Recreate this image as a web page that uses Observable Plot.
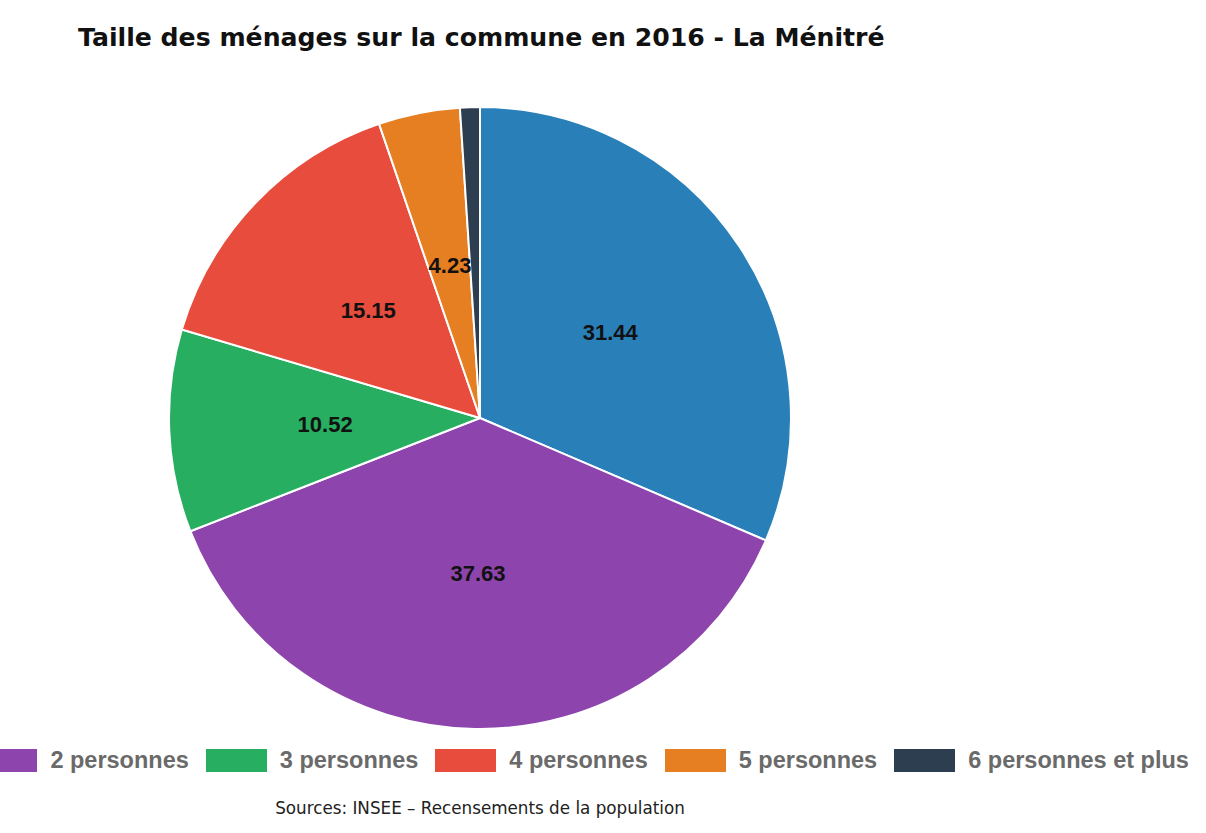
<!DOCTYPE html>
<html>
<head>
<meta charset="utf-8">
<script src="https://cdn.jsdelivr.net/npm/d3@7"></script>
<script src="https://cdn.jsdelivr.net/npm/@observablehq/plot@0.6"></script>
<style>
  html, body { margin: 0; padding: 0; background: #fff; }
  #wrap { position: relative; width: 1206px; height: 833px; overflow: hidden; }
  #title { position: absolute; left: 78px; top: 25px; white-space: nowrap; display: inline-block;
           font-family: "DejaVu Sans", Verdana, sans-serif; font-weight: bold; color: #111; line-height: 1; }
  #chart { position: absolute; left: 0; top: 98px; }
  #legend { position: absolute; left: -240px; top: 749px; display: flex; flex-wrap: nowrap; align-items: center;
            font-family: "Liberation Sans", Arial, sans-serif; font-weight: bold; font-size: 23.5px; color: #6a6a6a;
            white-space: nowrap; line-height: 23px; }
  .item { display: flex; align-items: center; margin-right: 17px; flex: none; }
  .sw { width: 61px; height: 23px; margin-right: 13px; flex: none; }
  #caption { position: absolute; top: 800px; white-space: nowrap; display: inline-block;
             font-family: "DejaVu Sans", Verdana, sans-serif; color: #222; line-height: 1; }
</style>
</head>
<body>
<div id="wrap">
  <div id="title">Taille des ménages sur la commune en 2016 - La Ménitré</div>
  <div id="chart"></div>
  <div id="legend"></div>
  <div id="caption">Sources: INSEE – Recensements de la population</div>
</div>
<script>
const categories = ["1 personne", "2 personnes", "3 personnes", "4 personnes", "5 personnes", "6 personnes et plus"];
const values = [31.44, 37.63, 10.52, 15.15, 4.23, 1.03];
const colors = ["#2980b9", "#8e44ad", "#27ae60", "#e74c3c", "#e67e22", "#2c3e50"];

const data = categories.map((c, i) => ({category: c, value: values[i]}));
const arcs = d3.pie().sort(null).value(d => d.value)(data);
const labelData = arcs.filter(a => a.data.value >= 2).map(a => {
  const m = (a.startAngle + a.endAngle) / 2;
  return {x: 0.5 * Math.sin(m), y: 0.5 * Math.cos(m), text: a.data.value.toFixed(2)};
});

const fallbackColor = d3.scaleOrdinal(categories, colors);

function pieMark(index, scales) {
  const color = scales.color || fallbackColor;
  const cx = scales.x(0), cy = scales.y(0);
  const r = scales.x(1) - scales.x(0);
  const arc = d3.arc().innerRadius(0).outerRadius(r);
  const g = d3.create("svg:g").attr("transform", `translate(${cx},${cy})`);
  g.selectAll("path").data(arcs).join("path")
    .attr("d", arc)
    .attr("fill", d => color(d.data.category))
    .attr("stroke", "white")
    .attr("stroke-width", 2)
    .attr("stroke-linejoin", "round");
  return g.node();
}

const R = 311;
const chart = Plot.plot({
  width: 960,
  height: 640,
  marginLeft: 480 - R,
  marginRight: 480 - R,
  marginTop: 320 - R,
  marginBottom: 320 - R,
  x: {domain: [-1, 1], axis: null},
  y: {domain: [-1, 1], axis: null},
  color: {domain: categories, range: colors},
  style: {fontFamily: "'Liberation Sans', Arial, sans-serif", background: "transparent"},
  marks: [
    pieMark,
    Plot.text(labelData, {
      x: "x", y: "y", text: "text", fontSize: 22, fontWeight: "bold", fill: "#111",
      fontFamily: "'Liberation Sans', Arial, sans-serif"
    })
  ]
});
document.getElementById("chart").appendChild(chart);

// legend
const legend = d3.select("#legend");
categories.forEach((c, i) => {
  const it = legend.append("div").attr("class", "item");
  it.append("div").attr("class", "sw").style("background", colors[i]);
  it.append("span").text(c);
});

// fit text widths
function fit(el, target, start) {
  el.style.fontSize = start + "px";
  const w = el.getBoundingClientRect().width;
  el.style.fontSize = (start * target / w) + "px";
}
const title = document.getElementById("title");
fit(title, 807, 24);
const cap = document.getElementById("caption");
fit(cap, 410, 15);
cap.style.left = (480 - cap.getBoundingClientRect().width / 2) + "px";
</script>
</body>
</html>
